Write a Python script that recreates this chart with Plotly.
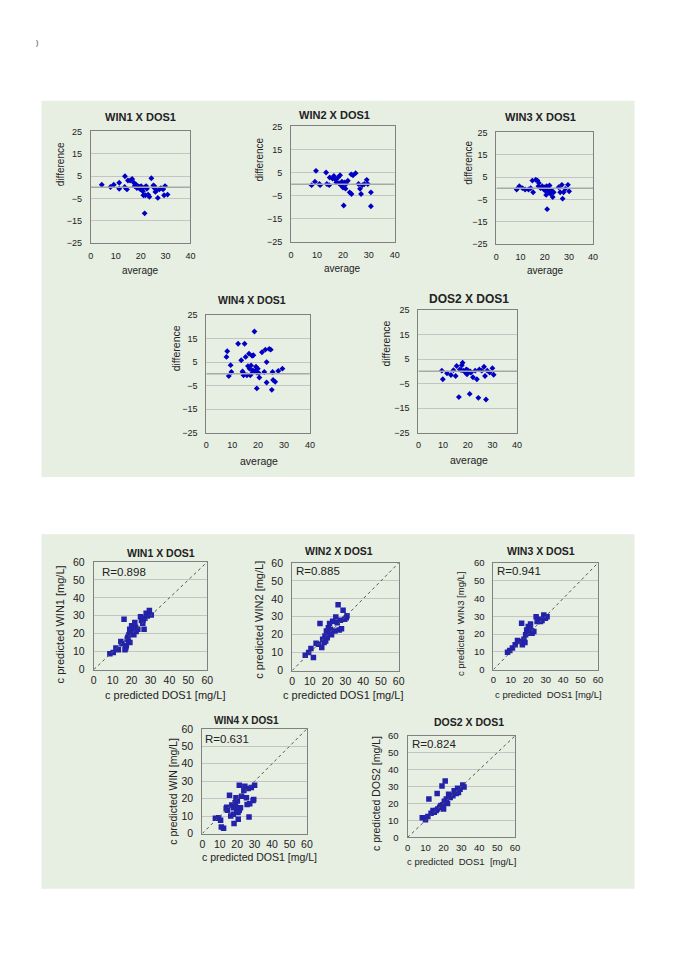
import plotly.graph_objects as go

W, H = 678, 960
FONT = "Arial, Liberation Sans, sans-serif"
PANEL_BG = "#e7eee2"
BORDER = "#808080"
GRID = "#c4c4c4"
BA_BLUE = "#0000c4"
SC_BLUE = "#2222aa"

# ---- Bland-Altman data: average vs difference ----
ba_win1_avg = [4.4, 7.9, 9.2, 11.4, 11.4, 13.7, 13.6, 14.5, 14.9, 15.8, 16.6, 17.3, 17.6, 18.2, 18.5,
               18.9, 19.5, 19.9, 20.2, 20.6, 20.9, 21.1, 21.6, 21.9, 22.2, 22.5, 21.9, 23.0, 23.5, 24.3,
               25.1, 25.5, 25.9, 26.4, 26.9, 27.5, 28.1, 29.0, 29.8, 29.4, 30.8, 25.5]
ba_win1_diff = [1.1, 0.1, 1.1, 2.0, -0.7, 4.9, 0.1, -1.0, 3.0, 3.0, 3.7, 2.0, 0.5, 1.1, -0.4,
                0.5, 0.1, -1.0, 0.5, -0.7, -1.8, -3.6, -11.7, 0.1, 0.5, -0.7, -3.6, -3.3, -4.3, 4.0,
                0.8, -0.4, -2.1, -1.4, -4.8, -1.0, -0.4, -1.0, 0.5, -3.6, -3.3, 0.5]

ba_win2_avg = [7.9, 9.6, 9.2, 10.9, 11.2, 13.5, 13.8, 14.7, 14.9, 16.0, 16.5, 17.2, 17.5, 18.1, 18.9,
               19.2, 19.6, 20.0, 20.3, 20.6, 21.2, 21.9, 22.6, 23.3, 23.9, 24.9, 23.2, 26.0, 26.6, 27.0,
               27.5, 28.3, 29.2, 29.6, 30.8, 30.8, 18.5, 19.9, 21.0]
ba_win2_diff = [-0.4, 5.8, 1.1, 0.1, -0.4, 5.1, 0.1, -0.4, 2.9, 2.5, 3.6, 1.9, 0.8, 2.9, 3.9,
                -0.4, 1.1, -1.4, -9.2, 0.8, 0.1, 1.5, -3.5, -4.2, 3.9, 4.8, 4.3, 0.1, -2.0, -4.2,
                -0.4, 0.1, 1.9, 0.1, -3.5, -9.5, 0.5, -0.9, -1.9]

ba_win3_avg = [8.4, 9.5, 10.8, 11.9, 13.3, 14.2, 14.9, 15.2, 16.3, 17.0, 17.4, 17.6, 18.3, 19.0, 19.7,
               20.1, 20.3, 20.6, 21.0, 21.4, 21.7, 22.0, 22.4, 22.8, 23.3, 23.7, 25.8, 26.4, 27.1, 27.4,
               27.8, 28.5, 29.6, 30.1, 19.4, 20.8]
ba_win3_diff = [-0.6, 0.9, 0.0, -0.6, -0.6, 0.0, 3.4, -1.8, 3.8, 3.4, 0.9, 2.3, 0.0, 0.9, -0.6,
                0.4, -1.2, -3.0, -9.4, -0.3, -1.7, 1.2, -2.5, -1.0, -4.0, -1.8, 0.4, -1.8, 1.5, -4.7,
                -1.8, -0.3, 1.5, -1.4, -0.2, 0.9]

ba_win4_avg = [7.8, 8.1, 8.7, 9.4, 9.7, 12.3, 13.5, 14.2, 14.4, 14.8, 15.2, 15.7, 16.1, 16.5, 16.7,
               17.0, 17.3, 17.7, 17.9, 18.2, 18.6, 18.9, 19.2, 19.5, 19.5, 19.9, 20.3, 20.5, 21.5, 22.4,
               22.8, 23.3, 23.3, 24.3, 24.9, 25.3, 25.6, 25.8, 26.6, 27.8, 29.4, 14.0, 18.0]
ba_win4_diff = [7.2, 9.6, -0.9, 3.7, 0.8, 12.8, 5.8, 0.5, -0.6, 12.8, 7.2, -0.6, 3.3, 8.6, 2.2,
                -0.6, 3.6, 7.7, 0.8, 7.9, 18.0, 1.2, 3.0, 0.5, -6.2, 2.2, 0.3, -1.6, 9.2, 0.8,
                10.3, 5.0, -3.7, 10.6, 10.3, -6.8, 0.8, -2.6, -3.4, 1.2, 2.2, 1.0, 1.5]

ba_dos2_avg = [9.5, 9.9, 11.6, 13.2, 14.2, 15.1, 15.5, 16.4, 16.8, 17.3, 17.6, 17.9, 18.2, 19.1, 19.7,
               20.0, 20.4, 20.8, 21.3, 22.1, 23.0, 23.7, 24.3, 24.7, 25.7, 26.6, 27.0, 27.4, 27.9, 28.9,
               30.0, 30.5, 19.4, 21.0]
ba_dos2_diff = [0.3, -3.2, -0.8, -1.5, 0.5, -1.9, 2.2, -10.5, 0.8, 0.5, 2.5, 3.5, 0.3, -0.5, -1.2,
                0.5, -0.2, -9.2, -0.5, -2.4, 0.3, -3.2, -10.8, 0.8, 0.3, 1.9, -1.9, -11.5, 0.3, -0.5,
                1.3, -1.4, 0.8, 0.0]

# ---- correlation data: c predicted DOS1 vs c predicted other ----
sc_win1_x = [8.5, 10.3, 11.7, 13.0, 14.3, 14.9, 16.0, 16.9, 17.2, 17.7, 18.3, 18.6, 19.0, 19.1, 19.6,
             20.0, 20.3, 20.9, 21.2, 21.7, 22.1, 22.4, 23.3, 24.7, 25.2, 25.9, 26.6, 27.0, 27.7, 28.3,
             29.4, 30.4, 26.0, 18.0, 16.5]
sc_win1_y = [8.9, 9.6, 12.0, 11.0, 15.7, 14.4, 28.1, 12.0, 13.3, 17.0, 15.7, 19.4, 22.5, 15.1, 20.3,
             24.4, 21.2, 22.2, 19.4, 26.2, 23.6, 21.2, 22.5, 29.5, 27.3, 25.8, 22.5, 28.6, 31.4, 29.9,
             32.9, 30.5, 27.5, 18.0, 11.0]

sc_win2_x = [7.4, 9.3, 10.6, 12.0, 13.5, 14.8, 15.7, 16.7, 17.2, 18.0, 18.5, 18.9, 19.3, 19.8, 20.4,
             20.9, 21.1, 21.7, 22.2, 22.8, 24.1, 24.6, 25.4, 25.9, 26.5, 27.2, 27.8, 28.7, 29.6, 30.9,
             30.5]
sc_win2_y = [8.6, 10.1, 12.3, 7.3, 15.2, 14.7, 26.2, 12.8, 17.4, 15.6, 19.3, 16.5, 22.0, 18.3, 23.9,
             20.5, 26.2, 22.9, 20.0, 27.5, 22.0, 29.9, 26.6, 36.7, 22.6, 28.1, 23.3, 33.6, 28.6, 30.6,
             29.4]

sc_win3_x = [8.1, 9.4, 10.9, 12.5, 13.8, 15.1, 16.2, 16.6, 17.5, 18.1, 18.5, 19.1, 19.6, 20.0, 20.4,
             20.9, 21.3, 21.9, 22.2, 23.2, 24.5, 25.1, 26.0, 27.0, 27.9, 28.9, 29.8, 30.8, 21.0]
sc_win3_y = [9.7, 10.8, 12.1, 14.0, 16.4, 15.8, 26.1, 14.0, 17.1, 15.3, 19.6, 22.3, 20.5, 24.2, 21.4,
             23.3, 25.7, 22.0, 20.5, 21.4, 29.8, 27.0, 28.3, 27.0, 27.6, 30.7, 28.9, 29.8, 22.5]

sc_win4_x = [7.5, 9.4, 10.5, 10.9, 12.2, 13.7, 14.4, 15.6, 16.3, 16.9, 17.8, 17.8, 18.2, 18.8, 19.3,
             19.7, 20.1, 20.6, 21.2, 21.2, 21.9, 22.5, 23.8, 24.4, 25.3, 25.7, 26.3, 26.8, 27.2, 28.1,
             29.1, 30.0, 29.5, 14.0, 19.0, 20.5]
sc_win4_y = [8.7, 9.1, 7.6, 3.8, 3.0, 14.4, 13.3, 22.0, 10.0, 16.3, 14.8, 11.0, 5.7, 17.6, 20.5,
             13.9, 18.6, 8.2, 13.3, 27.7, 14.8, 21.4, 24.7, 27.1, 20.5, 16.7, 25.8, 9.5, 17.1, 26.4,
             18.9, 27.7, 19.5, 15.0, 15.5, 12.0]

sc_dos2_x = [8.2, 10.0, 11.3, 11.9, 13.1, 14.2, 14.9, 16.0, 16.8, 16.5, 17.9, 18.6, 19.2, 19.7, 20.1,
             20.5, 21.0, 21.6, 22.3, 22.9, 23.8, 25.3, 26.0, 27.2, 27.9, 28.4, 29.3, 30.8, 31.5]
sc_dos2_y = [11.6, 10.4, 12.4, 22.7, 14.3, 15.9, 14.9, 15.9, 16.8, 26.0, 17.8, 18.8, 30.4, 19.3, 16.8,
             21.3, 33.3, 22.7, 20.1, 25.5, 23.6, 24.6, 27.5, 26.0, 29.0, 26.5, 28.4, 31.0, 29.8]

ba_titles = ["WIN1 X DOS1", "WIN2 X DOS1", "WIN3 X DOS1", "WIN4 X DOS1", "DOS2 X DOS1"]
sc_titles = ["WIN1 X DOS1", "WIN2 X DOS1", "WIN3 X DOS1", "WIN4 X DOS1", "DOS2 X DOS1"]
sc_ylabels = ["c predicted WIN1 [mg/L]", "c predicted WIN2 [mg/L]", "c predicted  WIN3 [mg/L]",
              "c predicted WIN [mg/L]", "c predicted DOS2 [mg/L]"]
sc_xlabels = ["c predicted DOS1 [mg/L]", "c predicted DOS1 [mg/L]", "c predicted  DOS1 [mg/L]",
              "c predicted DOS1 [mg/L]", "c predicted  DOS1  [mg/L]"]
r_labels = ["R=0.898", "R=0.885", "R=0.941", "R=0.631", "R=0.824"]
ba_xticks = [0, 10, 20, 30, 40]
ba_yticks = [-25, -15, -5, 5, 15, 25]
sc_ticks = [0, 10, 20, 30, 40, 50, 60]

ba_data = [(ba_win1_avg, ba_win1_diff), (ba_win2_avg, ba_win2_diff), (ba_win3_avg, ba_win3_diff),
           (ba_win4_avg, ba_win4_diff), (ba_dos2_avg, ba_dos2_diff)]
sc_data = [(sc_win1_x, sc_win1_y), (sc_win2_x, sc_win2_y), (sc_win3_x, sc_win3_y),
           (sc_win4_x, sc_win4_y), (sc_dos2_x, sc_dos2_y)]

# pixel boxes: left, right, top, bottom  + label anchors
ba_boxes = [(89, 190, 127, 240), (292, 397, 122, 239), (500, 598, 128, 241),
            (206, 311, 313, 432), (421, 521, 308, 432)]
ba_title_pos = [(139, 112), (336, 110), (545, 112), (252, 298), (472, 297)]
ba_title_size = [11, 11, 11, 10.5, 12]
ba_xlab_pos = [(139, 268), (344, 266), (550, 268), (259, 461), (472, 460)]
ba_ylab_pos = [(59, 160), (260, 156), (471, 159), (175, 347), (388, 342)]
ba_lab_size = [10, 10, 10, 10.5, 10.5]

sc_boxes = [(92, 207, 563, 672), (293, 401, 564, 673), (497, 603, 564, 672),
            (202, 308, 732, 838), (410, 519, 739, 842)]
sc_title_pos = [(160, 554), (341, 552), (545, 552), (247, 724), (472, 725)]
sc_title_size = [10.5, 10.5, 10.5, 10, 10.5]
sc_xlab_pos = [(164, 698), (345, 698), (553, 697), (260, 862), (465, 866)]
sc_ylab_pos = [(58, 626), (260, 622), (463, 625), (172, 795), (378, 797)]
sc_xlab_size = [11, 11, 9.5, 10.5, 9.5]
sc_ylab_size = [11, 11, 9.5, 10.5, 10.5]
sc_tick_size = [10.5, 10.5, 9.5, 10.5, 9.5]
r_pos = [(98, 573), (295, 572), (499, 572), (203, 742), (412, 747)]


def px(x):
    return x / W


def py(y):
    return 1 - y / H


fig = go.Figure()
layout = dict(width=W, height=H, margin=dict(l=0, r=0, t=0, b=0),
              paper_bgcolor="white", plot_bgcolor="white", showlegend=False,
              font=dict(family=FONT, color="#222222"))
shapes = []
annotations = []

# light green panels
for x0, x1, y0, y1 in [(39, 640, 96, 477), (39, 640, 535, 894)]:
    shapes.append(dict(type="rect", xref="paper", yref="paper", x0=px(x0), x1=px(x1),
                       y0=py(y1), y1=py(y0), fillcolor=PANEL_BG, line=dict(width=0), layer="below"))

annotations.append(dict(text="<b>)</b>", x=px(31), y=py(31), xref="paper", yref="paper",
                        showarrow=False, font=dict(size=7, color="#777777")))


def add_label(text, pos, size, bold=False, angle=0, xanchor="center"):
    annotations.append(dict(text="<b>%s</b>" % text if bold else text, x=px(pos[0]), y=py(pos[1]),
                            xref="paper", yref="paper", showarrow=False, textangle=angle,
                            xanchor=xanchor, yanchor="middle", font=dict(size=size, color="#222222")))


def axis(domain, anchor, rng, ticks, grid, size, ticklen):
    return dict(domain=domain, anchor=anchor, range=rng, tickvals=ticks, showgrid=grid,
                gridcolor=GRID, zeroline=False, showline=True, mirror=True, linecolor=BORDER,
                ticks="outside", ticklen=ticklen, tickcolor="rgba(0,0,0,0)", tickfont=dict(size=size))


n = 0
for i, (avg, diff) in enumerate(ba_data):
    n += 1
    l, r, t, b = ba_boxes[i]
    xa, ya = "x%d" % n, "y%d" % n
    fig.add_trace(go.Scatter(x=avg, y=diff, mode="markers", xaxis=xa, yaxis=ya,
                             marker=dict(symbol="diamond", size=4.5, color=BA_BLUE)))
    layout["xaxis%d" % n] = axis([px(l), px(r)], ya, [0, 40], ba_xticks, False, 9, 4)
    layout["yaxis%d" % n] = axis([py(b), py(t)], xa, [-25, 25], ba_yticks, True, 9, 6)
    # horizontal axis crossing at zero
    shapes.append(dict(type="line", xref=xa, yref=ya, x0=0, x1=40, y0=0, y1=0,
                       line=dict(color="#a8a8a8", width=1.5)))
    add_label(ba_titles[i], ba_title_pos[i], ba_title_size[i], bold=True)
    add_label("average", ba_xlab_pos[i], ba_lab_size[i])
    add_label("difference", ba_ylab_pos[i], ba_lab_size[i], angle=-90)

for i, (xs, ys) in enumerate(sc_data):
    n += 1
    l, r, t, b = sc_boxes[i]
    xa, ya = "x%d" % n, "y%d" % n
    fig.add_trace(go.Scatter(x=xs, y=ys, mode="markers", xaxis=xa, yaxis=ya,
                             marker=dict(symbol="square", size=5.5, color=SC_BLUE)))
    layout["xaxis%d" % n] = axis([px(l), px(r)], ya, [0, 60], sc_ticks, False, sc_tick_size[i], 1)
    layout["yaxis%d" % n] = axis([py(b), py(t)], xa, [0, 60], sc_ticks, True, sc_tick_size[i], 6)
    shapes.append(dict(type="line", xref=xa, yref=ya, x0=0, x1=60, y0=0, y1=60,
                       line=dict(color="#555555", width=1, dash="dot")))
    add_label(sc_titles[i], sc_title_pos[i], sc_title_size[i], bold=True)
    add_label(sc_xlabels[i], sc_xlab_pos[i], sc_xlab_size[i])
    add_label(sc_ylabels[i], sc_ylab_pos[i], sc_ylab_size[i], angle=-90)
    add_label(r_labels[i], r_pos[i], 11.5, xanchor="left")

layout["shapes"] = shapes
layout["annotations"] = annotations
fig.update_layout(**layout)

fig.write_html("out.html", config={"displayModeBar": False},
               post_script="document.body.style.margin='0';")
